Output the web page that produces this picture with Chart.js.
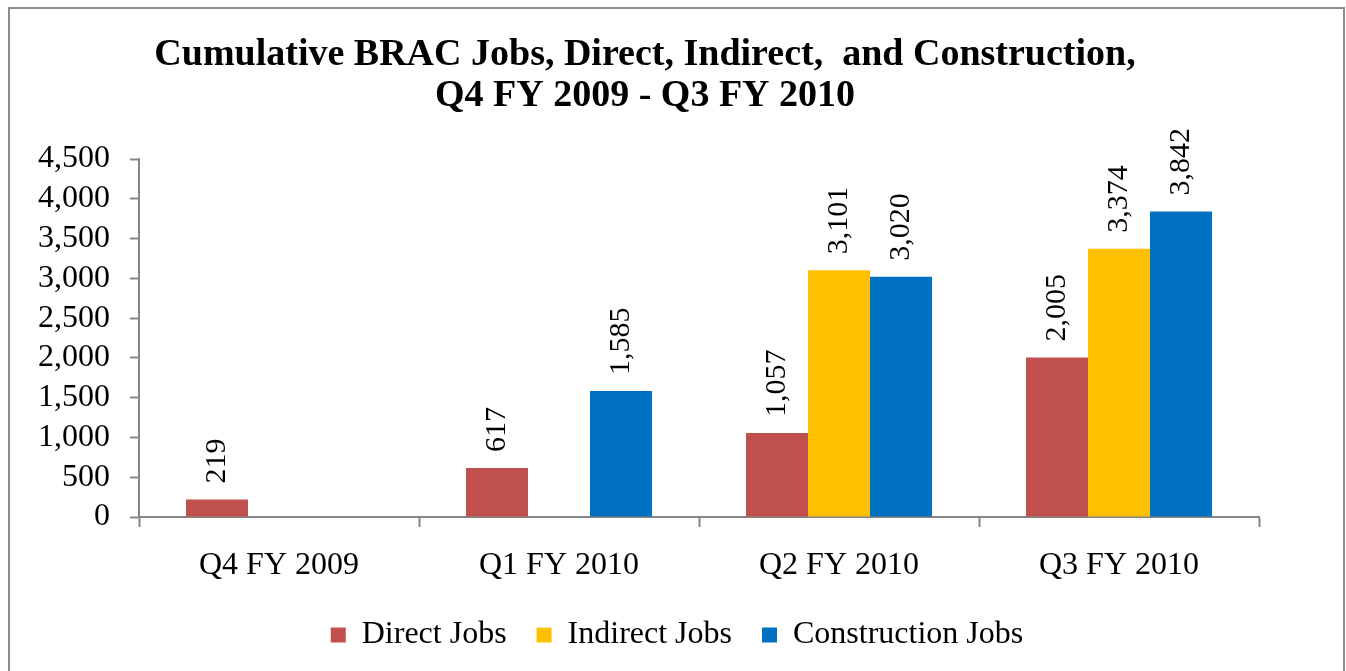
<!DOCTYPE html>
<html>
<head>
<meta charset="utf-8">
<script src="https://cdn.jsdelivr.net/npm/chart.js@4.4.1/dist/chart.umd.min.js"></script>
<style>
    html, body { margin: 0; padding: 0; background: #fff; }
    #wrap { position: relative; width: 1346px; height: 671px; overflow: hidden; }
    #frame {
        position: absolute; left: 8px; top: 7px; width: 1337px; height: 700px;
        border: 2px solid #8c8c8c; box-sizing: border-box;
    }
    canvas { position: absolute; left: 0; top: 0; }
</style>
</head>
<body>
<div id="wrap">
    <div id="frame"></div>
    <canvas id="chart" width="1346" height="671"></canvas>
</div>
<script>
// Quarters and cumulative job counts
const quarters = ['Q4 FY 2009', 'Q1 FY 2010', 'Q2 FY 2010', 'Q3 FY 2010'];
const directJobs = [219, 617, 1057, 2005];
const indirectJobs = [null, null, 3101, 3374];
const constructionJobs = [null, 1585, 3020, 3842];
const yTicks = [0, 500, 1000, 1500, 2000, 2500, 3000, 3500, 4000, 4500];

const FONT = '"Liberation Serif", "Times New Roman", serif';
const AXIS_GREY = '#868686';

const fmt = v => Number(v).toLocaleString('en-US');

// Vertical value labels above each bar
const barLabels = {
    id: 'barLabels',
    afterDatasetsDraw(chart) {
        const ctx = chart.ctx;
        ctx.save();
        ctx.font = '30px ' + FONT;
        ctx.fillStyle = '#000';
        ctx.textAlign = 'left';
        ctx.textBaseline = 'middle';
        chart.data.datasets.forEach((ds, i) => {
            const meta = chart.getDatasetMeta(i);
            meta.data.forEach((bar, j) => {
                const v = ds.data[j];
                if (v === null || v === undefined) return;
                ctx.save();
                ctx.translate(bar.x, bar.y - 16);
                ctx.rotate(-Math.PI / 2);
                ctx.fillText(fmt(v), 0, 0);
                ctx.restore();
            });
        });
        ctx.restore();
    }
};

// Legend in the original sits a little right of the plot centre
const legendShift = {
    id: 'legendShift',
    afterLayout(chart) {
        const lg = chart.legend;
        if (!lg) return;
        lg.left += 32;
        lg.right += 32;
    }
};

new Chart(document.getElementById('chart').getContext('2d'), {
    type: 'bar',
    data: {
        labels: quarters,
        datasets: [
            { label: 'Direct Jobs', data: directJobs, backgroundColor: '#C0504D' },
            { label: 'Indirect Jobs', data: indirectJobs, backgroundColor: '#FFC000' },
            { label: 'Construction Jobs', data: constructionJobs, backgroundColor: '#0070C0' }
        ]
    },
    options: {
        responsive: false,
        animation: false,
        layout: { padding: { left: 31, right: 87, top: 0, bottom: 10 } },
        datasets: {
            bar: { categoryPercentage: 0.664, barPercentage: 1.0 }
        },
        scales: {
            x: {
                afterFit(scale) { scale.height = 72; },
                grid: {
                    offset: true,
                    drawOnChartArea: false,
                    tickLength: 10,
                    tickColor: AXIS_GREY,
                    tickWidth: 2
                },
                border: { color: AXIS_GREY, width: 2 },
                ticks: {
                    color: '#000',
                    font: { family: FONT, size: 32 },
                    padding: 19
                }
            },
            y: {
                min: 0,
                max: 4500,
                afterFit(scale) { scale.width = 108; },
                afterBuildTicks(axis) {
                    axis.ticks = yTicks.map(v => ({ value: v }));
                },
                grid: {
                    drawOnChartArea: false,
                    tickLength: 9,
                    tickColor: AXIS_GREY,
                    tickWidth: 2
                },
                border: { color: AXIS_GREY, width: 2 },
                ticks: {
                    autoSkip: false,
                    color: '#000',
                    font: { family: FONT, size: 32 },
                    padding: 20,
                    callback: v => fmt(v)
                }
            }
        },
        plugins: {
            title: {
                display: true,
                text: ['Cumulative BRAC Jobs, Direct, Indirect,  and Construction,', 'Q4 FY 2009 - Q3 FY 2010'],
                color: '#000',
                font: { family: FONT, size: 38, weight: 'bold', lineHeight: 1.08 },
                padding: { top: 35, bottom: 42 }
            },
            legend: {
                position: 'bottom',
                labels: {
                    color: '#000',
                    font: { family: FONT, size: 32 },
                    boxWidth: 15,
                    boxHeight: 15,
                    padding: 30
                }
            },
            tooltip: { enabled: false }
        }
    },
    plugins: [barLabels, legendShift]
});
</script>
</body>
</html>
